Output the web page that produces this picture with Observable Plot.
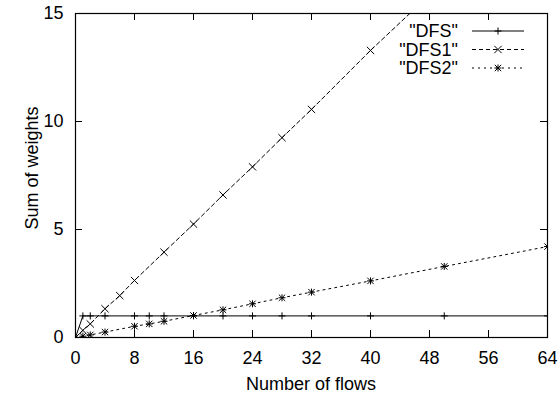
<!DOCTYPE html>
<html><head><meta charset="utf-8">
<script src="https://cdn.jsdelivr.net/npm/d3@7"></script>
<script src="https://cdn.jsdelivr.net/npm/@observablehq/plot@0.6"></script>
<style>body{margin:0;background:#fff} svg{display:block}</style>
</head><body><div id="chart"></div>
<script>
// ---- data ----
const flowsDFS = [0,1,2,4,8,10,12,16,20,24,28,32,40,50,64];
const weightsDFS = [0,1,1,1,1,1,1,1,1,1,1,1,1,1,1];
const flowsDFS1 = [0,1,2,4,6,8,12,16,20,24,28,32,40,50,64];
const weightsDFS1 = [0,0.33,0.63,1.33,1.94,2.64,3.95,5.25,6.6,7.9,9.25,10.56,13.29,16.5,21.1];
const flowsDFS2 = [0,1,2,4,8,10,12,16,20,24,28,32,40,50,64];
const weightsDFS2 = [0,0.06,0.12,0.25,0.52,0.63,0.75,1.02,1.28,1.56,1.84,2.1,2.62,3.29,4.21];
const xTicks = [0,8,16,24,32,40,48,56,64];
const yTicks = [0,5,10,15];
const seriesNames = ['"DFS"','"DFS1"','"DFS2"'];
const xLabel = "Number of flows";
const yLabel = "Sum of weights";

const zip = (xs, ys) => xs.map((x, i) => ({x, y: ys[i]}));
const dfs = zip(flowsDFS, weightsDFS);
const dfs1 = zip(flowsDFS1, weightsDFS1);
const dfs2 = zip(flowsDFS2, weightsDFS2);

const W = 559, H = 399, mL = 75, mR = 12, mT = 13, mB = 62;
const innerW = W - mL - mR, innerH = H - mT - mB;
const font = "'Liberation Sans', Arial, Helvetica, sans-serif";
const fs = 18;
const ink = "#000";
const dash1 = "4,3", dash2 = "2,4";
const rPlus = 2.4, rTimes = 3.4;

const chart = Plot.plot({
  width: W, height: H,
  marginLeft: mL, marginRight: mR, marginTop: mT, marginBottom: mB,
  style: {fontFamily: font, fontSize: fs + "px", background: "#fff", color: ink},
  x: {domain: [0, 64]},
  y: {domain: [0, 15]},
  marks: [
    Plot.line(dfs, {x: "x", y: "y", stroke: ink, strokeWidth: 1, clip: true}),
    Plot.line(dfs1, {x: "x", y: "y", stroke: ink, strokeWidth: 1, strokeDasharray: dash1, clip: true}),
    Plot.line(dfs2, {x: "x", y: "y", stroke: ink, strokeWidth: 1, strokeDasharray: dash2, clip: true}),
    Plot.dot(dfs, {x: "x", y: "y", symbol: "plus", r: rPlus, stroke: ink, strokeWidth: 1, clip: true}),
    Plot.dot(dfs1, {x: "x", y: "y", symbol: "times", r: rTimes, stroke: ink, strokeWidth: 1, clip: true}),
    Plot.dot(dfs2, {x: "x", y: "y", symbol: "plus", r: rPlus, stroke: ink, strokeWidth: 1, clip: true}),
    Plot.dot(dfs2, {x: "x", y: "y", symbol: "times", r: rTimes - 0.4, stroke: ink, strokeWidth: 1, clip: true}),
    // inward ticks on all four sides
    Plot.tickX(xTicks, {x: d => d, insetTop: innerH - 7, stroke: ink}),
    Plot.tickX(xTicks, {x: d => d, insetBottom: innerH - 7, stroke: ink}),
    Plot.tickY(yTicks, {y: d => d, insetRight: innerW - 7, stroke: ink}),
    Plot.tickY(yTicks, {y: d => d, insetLeft: innerW - 7, stroke: ink}),
    Plot.frame({stroke: ink, strokeWidth: 1.2}),
    Plot.axisX({ticks: xTicks, tickSize: 0, tickPadding: 14, label: null, tickFormat: d => String(d), fill: ink}),
    Plot.axisY({ticks: yTicks, tickSize: 0, tickPadding: 12, label: null, tickFormat: d => String(d), fill: ink})
  ]
});

const svg = d3.select(chart);
// axis titles
svg.append("text").attr("x", mL + innerW / 2).attr("y", 390)
  .attr("text-anchor", "middle").attr("fill", ink).style("font-size", fs + "px").text(xLabel);
svg.append("text").attr("transform", `translate(38,${168}) rotate(-90)`)
  .attr("text-anchor", "middle").attr("fill", ink).style("font-size", fs + "px").text(yLabel);

// legend (key box inside top-right, as in gnuplot)
const leg = svg.append("g");
const dashes = [null, dash1, dash2];
seriesNames.forEach((name, i) => {
  const cy = 31 + i * 18.5;
  leg.append("text").attr("x", 458).attr("y", cy).attr("dy", "0.36em")
    .attr("text-anchor", "end").attr("fill", ink).style("font-size", fs + "px").text(name);
  const ln = leg.append("line").attr("x1", 472).attr("x2", 524).attr("y1", cy).attr("y2", cy)
    .attr("stroke", ink).attr("stroke-width", 1);
  if (dashes[i]) ln.attr("stroke-dasharray", dashes[i]);
  const sym = (type, r) => leg.append("path")
    .attr("transform", `translate(498,${cy})`)
    .attr("d", d3.symbol(type, r * r * Math.PI)())
    .attr("fill", "none").attr("stroke", ink).attr("stroke-width", 1);
  if (i === 0) sym(d3.symbolPlus, rPlus);
  if (i === 1) sym(d3.symbolTimes, rTimes);
  if (i === 2) { sym(d3.symbolPlus, rPlus); sym(d3.symbolTimes, rTimes - 0.4); }
});

document.getElementById("chart").appendChild(chart);
</script>
</body></html>
